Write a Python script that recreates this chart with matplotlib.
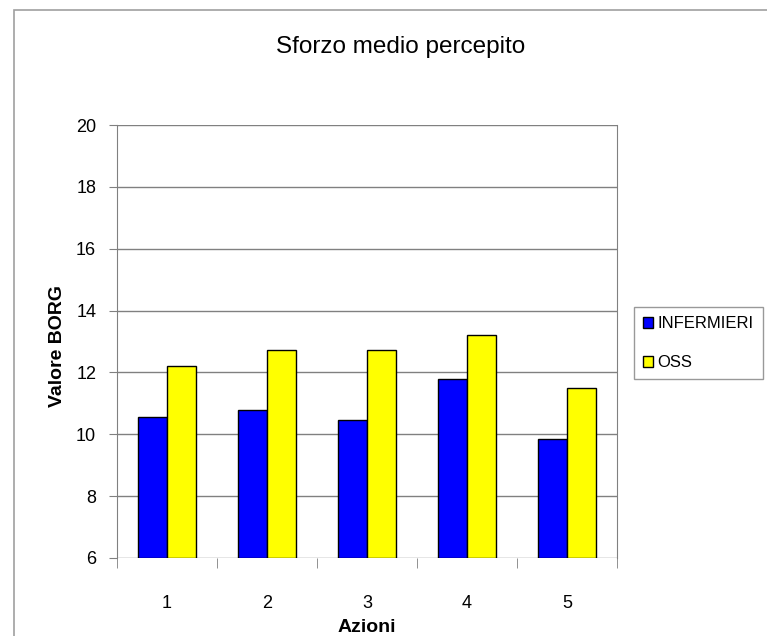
import numpy as np
import matplotlib.pyplot as plt
from matplotlib.patches import Rectangle

# data
azioni = ['1', '2', '3', '4', '5']
infermieri = [10.55, 10.78, 10.45, 11.8, 9.85]
oss = [12.22, 12.72, 12.72, 13.2, 11.5]

plt.rcParams['font.family'] = ['Liberation Sans', 'DejaVu Sans']

fig = plt.figure(figsize=(7.67, 6.36), dpi=100)
ax = fig.add_axes([117/767, 1-558/636, 500/767, 433/636])

# outer chart border (Excel style)
fig.patches.append(Rectangle((14/767, -0.1), 1.2, 1-10/636+0.1,
                             transform=fig.transFigure, fill=False,
                             edgecolor='#a0a0a0', lw=1.2, zorder=0))

x = np.arange(len(azioni))
w = 0.29
ax.bar(x - w/2, [v - 6 for v in infermieri], w, bottom=6, color='#0000ff',
       edgecolor='black', lw=1.0, label='INFERMIERI', zorder=3)
ax.bar(x + w/2, [v - 6 for v in oss], w, bottom=6, color='#ffff00',
       edgecolor='black', lw=1.0, label='OSS', zorder=3)

ax.set_xlim(-0.5, len(azioni) - 0.5)
ax.set_ylim(6, 20)
ax.set_yticks(range(6, 21, 2))
ax.set_xticks(x)
ax.set_xticklabels(azioni)
ax.set_xticks(np.arange(-0.5, len(azioni)), minor=True)
ax.tick_params(axis='x', which='major', length=0, pad=27, labelsize=13)
ax.tick_params(axis='x', which='minor', length=7, color='#808080', direction='out')
ax.tick_params(axis='y', length=6, color='#808080', labelsize=13, pad=9)

ax.yaxis.grid(True, color='#808080', lw=1.0, zorder=0)
ax.set_axisbelow(True)
for side in ['left', 'right']:
    ax.spines[side].set_color('#808080')
ax.spines['top'].set_visible(False)
ax.spines['bottom'].set_visible(False)

ax.set_xlabel('Azioni', fontsize=14, fontweight='bold')
ax.set_ylabel('Valore BORG', fontsize=14, fontweight='bold')
ax.xaxis.set_label_coords(367/767, 1-627/636, transform=fig.transFigure)
ax.yaxis.set_label_coords(58/767, 1-346/636, transform=fig.transFigure)
ax.xaxis.label.set_va('center')
ax.yaxis.label.set_va('center')
fig.text(401/767, 1-47/636, 'Sforzo medio percepito', fontsize=17.5,
         ha='center', va='center')

leg = fig.legend(loc='upper left', bbox_to_anchor=(634/767, 1-307/636),
                 borderaxespad=0, frameon=True, fancybox=False,
                 edgecolor='#808080', fontsize=12, handlelength=0.6,
                 handleheight=0.6, handletextpad=0.25, labelspacing=1.45,
                 borderpad=0.55)
leg.get_frame().set_linewidth(1.0)

fig.savefig('out.png', dpi=100)
